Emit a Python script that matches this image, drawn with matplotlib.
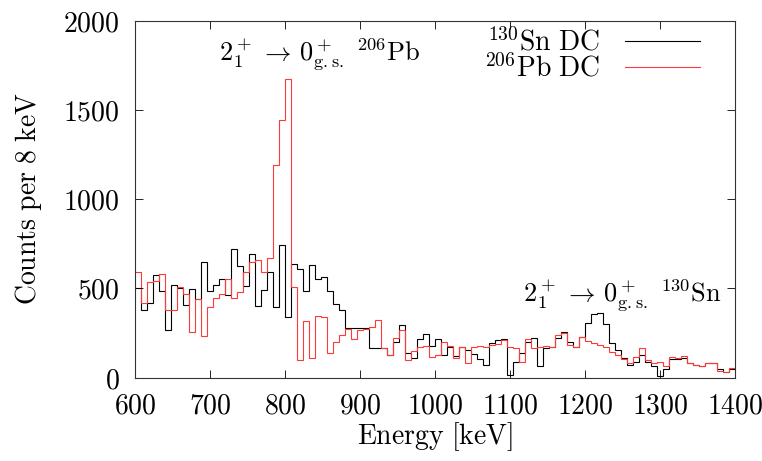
import matplotlib
matplotlib.use("Agg")
import matplotlib.pyplot as plt
from matplotlib.ticker import MultipleLocator, FuncFormatter
import numpy as np

plt.rcParams["mathtext.fontset"] = "cm"
plt.rcParams["font.family"] = "serif"
plt.rcParams["font.serif"] = ["DejaVu Serif"]

# bin edges: 600..1400 keV, 8 keV per bin
e_lo, e_hi, bin_w = 600, 1400, 8

sn_dc = [500, 380, 418, 577, 483, 264, 521, 500, 408, 495,
         442, 646, 483, 521, 551, 463, 721, 624, 511, 695,
         403, 493, 590, 395, 742, 337, 639, 609, 487, 630,
         554, 562, 487, 414, 380, 277, 277, 277, 277, 165,
         165, 165, 128, 202, 296, 138, 110, 217, 244, 178,
         217, 128, 174, 122, 170, 156, 133, 103, 71, 193,
         208, 217, 15, 90, 138, 202, 221, 67, 165, 174,
         221, 258, 200, 174, 230, 305, 356, 360, 300, 194,
         155, 110, 70, 90, 129, 90, 62, 10, 47, 103,
         103, 112, 81, 72, 62, 84, 84, 47, 29, 47]

pb_dc = [590, 418, 536, 540, 581, 380, 380, 505, 470, 258,
         440, 234, 395, 446, 470, 551, 446, 478, 590, 650,
         658, 591, 670, 1191, 1444, 1676, 506, 99, 315, 110,
         343, 339, 136, 202, 239, 271, 217, 264, 271, 286,
         323, 165, 128, 221, 267, 99, 150, 170, 178, 118,
         128, 202, 178, 110, 174, 84, 174, 178, 174, 180,
         189, 208, 174, 165, 90, 215, 165, 170, 178, 174,
         240, 250, 183, 174, 230, 206, 193, 183, 169, 146,
         127, 105, 80, 118, 165, 96, 81, 90, 62, 118,
         110, 122, 81, 72, 62, 84, 84, 37, 29, 56]

edges = np.arange(e_lo, e_hi + bin_w, bin_w)

fig = plt.figure(figsize=(7.62, 4.61), dpi=100)
ax = fig.add_axes([0.177, 0.181, 0.788, 0.774])

ax.stairs(sn_dc, edges, color="black", lw=0.8, baseline=None,
          label=r"$^{130}\mathrm{Sn\ DC}$")
ax.stairs(pb_dc, edges, color="#ff3838", lw=0.8, baseline=None,
          label=r"$^{206}\mathrm{Pb\ DC}$")

ax.set_xlim(600, 1400)
ax.set_ylim(0, 2000)
ax.xaxis.set_major_locator(MultipleLocator(100))
ax.yaxis.set_major_locator(MultipleLocator(500))
fmt = FuncFormatter(lambda v, p: r"$\mathrm{%d}$" % v)
ax.xaxis.set_major_formatter(fmt)
ax.yaxis.set_major_formatter(fmt)
ax.tick_params(direction="in", top=True, right=True, length=6,
               width=0.6, labelsize=20, pad=11)
for s in ax.spines.values():
    s.set_linewidth(0.8)
    s.set_color("#333333")

ax.set_xlabel(r"$\mathrm{Energy\ [keV]}$", fontsize=20, labelpad=0)
ax.set_ylabel(r"$\mathrm{Counts\ per\ 8\ keV}$", fontsize=20, labelpad=14)

ax.text(847, 1815, r"$2_1^+ \,\rightarrow\, 0_{\mathrm{g.s.}}^+\ ^{206}\mathrm{Pb}$",
        fontsize=19, ha="center", va="center")
ax.text(1249, 465, r"$2_1^+ \,\rightarrow\, 0_{\mathrm{g.s.}}^+\ ^{130}\mathrm{Sn}$",
        fontsize=19, ha="center", va="center")

ax.legend(loc="upper right", frameon=False, fontsize=20, markerfirst=False,
          handlelength=2.7, handletextpad=0.9, labelspacing=-0.1,
          borderaxespad=0.0, bbox_to_anchor=(0.96, 1.01))

fig.savefig("out.png", dpi=100)
